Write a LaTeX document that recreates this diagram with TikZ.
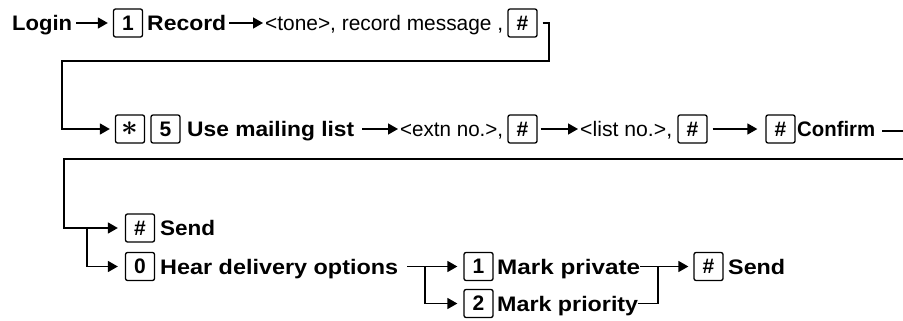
\documentclass[tikz,border=0pt]{standalone}
\usepackage{fontspec}
\setmainfont{Liberation Sans}
\usetikzlibrary{arrows.meta}
\newcommand\fw[2]{\resizebox{#1pt}{\height}{#2}}
\begin{document}
\begin{tikzpicture}[x=1pt,y=-1pt,
  txt/.style={anchor=west, inner sep=0pt, text height=15pt, text depth=0pt, font=\fontsize{21}{25}\selectfont\bfseries},
  ptxt/.style={txt, font=\fontsize{21}{25}\selectfont},
  key/.style={draw, line width=1.3pt, rounded corners=2pt, minimum width=29pt, minimum height=28pt, inner sep=0pt, font=\fontsize{21}{25}\selectfont\bfseries},
  ln/.style={line width=1.5pt},
  arr/.style={ln, -{Triangle[length=10pt,width=11pt]}}]
\useasboundingbox (0,0) rectangle (903,321);
% row 1
\node[txt] (login) at (12,23) {\fw{60}{Login}};
\node[key] (k1) at (128,23) {1};
\node[txt] (record) at (147,23) {\fw{79}{Record}};
\node[ptxt] (tone) at (265,23) {\fw{238}{<tone>, record message ,}};
\node[key] (kh1) at (522.5,23) {\#};
% row 2
\node[key] (kstar) at (130,129) {\scalebox{1.4}{\boldmath$\ast$}};
\node[key] (k5) at (165.5,129) {5};
\node[txt] (mail) at (187,129) {\fw{167}{Use mailing list}};
\node[ptxt] (extn) at (400,129) {\fw{103}{<extn no.>,}};
\node[key] (kh2) at (522.5,129) {\#};
\node[ptxt] (list) at (580,129) {\fw{92}{<list no.>,}};
\node[key] (kh3) at (692.5,129) {\#};
\node[key] (kh4) at (780.5,129) {\#};
\node[txt] (confirm) at (797,129) {\fw{78}{Confirm}};
% row 3/4
\node[key] (kh5) at (140,228) {\#};
\node[txt] (send1) at (160,228) {\fw{55}{Send}};
\node[key] (k0) at (140,266.5) {0};
\node[txt] (hear) at (160,266.5) {\fw{238}{Hear delivery options}};
\node[key] (kp1) at (478.5,266.5) {1};
\node[txt] (priv) at (497,266.5) {\fw{143}{Mark private}};
\node[key] (kp2) at (478.5,303.5) {2};
\node[txt] (prio) at (497,303.5) {\fw{141}{Mark priority}};
\node[key] (kh6) at (708.5,266.5) {\#};
\node[txt] (send2) at (728,266.5) {\fw{57}{Send}};
% connectors
\draw[arr, shorten <=4pt, shorten >=5pt] (login.east) -- (k1.west);
\draw[arr, shorten <=3pt, shorten >=2pt] (record.east) -- (tone.west);
\coordinate (c1) at (549,61);
\coordinate (c2) at (62,61);
\draw[arr, shorten <=5pt, shorten >=5pt] (kh1.east) -| (c1) -- (c2) |- (kstar.west);
\draw[arr, shorten <=8pt, shorten >=2pt] (mail.east) -- (extn.west);
\draw[arr, shorten <=3pt, shorten >=2pt] (kh2.east) -- (list.west);
\draw[arr, shorten <=5pt, shorten >=8pt] (kh3.east) -- (kh4.west);
\coordinate (d1) at (882,131);
\coordinate (d2) at (903,131);
\draw[ln] (d1) -- (d2);
\coordinate (e1) at (903,159);
\coordinate (e2) at (64,159);
\draw[arr, shorten >=7pt] (e1) -- (e2) |- (kh5.west);
\coordinate (e3) at (87,228);
\draw[arr, shorten >=7pt] (e3) |- (k0.west);
\draw[arr, shorten <=9pt, shorten >=6pt] (hear.east) -- (kp1.west);
\coordinate (e4) at (425,266.5);
\draw[arr, shorten >=6pt] (e4) |- (kp2.west);
\draw[arr, shorten >=5pt] (priv.east) -- (kh6.west);
\coordinate (e5) at (658,266.5);
\draw[ln] (prio.east) -| (e5);
\end{tikzpicture}
\end{document}
